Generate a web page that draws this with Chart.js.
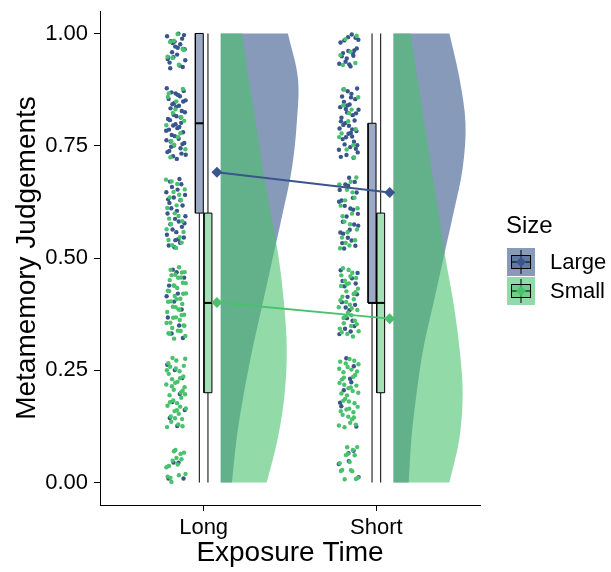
<!DOCTYPE html>
<html>
<head>
<meta charset="utf-8">
<script src="https://cdn.jsdelivr.net/npm/chart.js@4.4.1/dist/chart.umd.min.js"></script>
<style>
  html, body { margin: 0; padding: 0; background: #fff; }
  #wrap { width: 611px; height: 572px; }
</style>
</head>
<body>
<div id="wrap"><canvas id="chart" width="611" height="572"></canvas></div>
<script>
/* Data
------------------------------------------------*/
const categories = ['Long', 'Short'];
const groups = ['Large', 'Small'];
const yTicks = [0, 0.25, 0.5, 0.75, 1];

// rating levels and the dots seen at each level (Long, Short)
const levels = [0, 0.2, 0.4, 0.6, 0.8, 1];
const dotsLarge = [[4, 8, 12, 30, 45, 22], [5, 8, 18, 25, 40, 18]];
const dotsSmall = [[15, 40, 45, 22, 15, 8], [15, 40, 35, 20, 12, 6]];

// boxplots: [min, q1, median, q3, max] for Long, Short
const boxLarge = [[0, 0.6, 0.8, 1, 1], [0, 0.4, 0.4, 0.8, 1]];
const boxSmall = [[0, 0.2, 0.4, 0.6, 1], [0, 0.2, 0.4, 0.6, 1]];

// means
const meanLarge = [0.691, 0.646];
const meanSmall = [0.401, 0.365];

// half violin densities at 0, 0.1 ... 1
const densLevels = [0, 0.1, 0.2, 0.3, 0.4, 0.5, 0.6, 0.7, 0.8, 0.9, 1];
const densLarge = [
  [0.28, 0.40, 0.58, 0.80, 1.05, 1.30, 1.55, 1.78, 1.90, 1.93, 1.68],
  [0.38, 0.45, 0.58, 0.75, 1.00, 1.25, 1.50, 1.73, 1.80, 1.65, 1.40]
];
const densSmall = [
  [1.15, 1.43, 1.60, 1.65, 1.58, 1.45, 1.25, 1.05, 0.88, 0.70, 0.53],
  [1.40, 1.65, 1.73, 1.65, 1.50, 1.30, 1.13, 0.95, 0.78, 0.60, 0.43]
];

/* Layout (x units, one category = 1)
------------------------------------------------*/
const DOT_POS = -0.16, DOT_W = 0.058, DOT_H = 0.08;
const BOX_OFF = 0.025, BOX_HALF = 0.023;
const MEAN_POS = 0.077;
const VIOLIN_POS = 0.099, VIOLIN_SCALE = 0.2316;

const colors = { Large: [57, 86, 140], Small: [74, 193, 109] };
const rgba = (c, a) => 'rgba(' + c.join(',') + ',' + a + ')';
const FONT = "'Liberation Sans', Arial, sans-serif";

function halton(i, b) {
  let f = 1, r = 0;
  while (i > 0) { f /= b; r += f * (i % b); i = Math.floor(i / b); }
  return r;
}

const datasets = [];

// half violins
function addViolin(g, dens, order) {
  dens.forEach((d, ci) => {
    const b = ci + 1 + VIOLIN_POS;
    const pts = [{x: b, y: densLevels[0]}, {x: b + d[0] * VIOLIN_SCALE, y: densLevels[0]}];
    densLevels.forEach((lv, k) => pts.push({x: b + d[k] * VIOLIN_SCALE, y: lv}));
    const last = densLevels.length - 1;
    pts.push({x: b + d[last] * VIOLIN_SCALE, y: densLevels[last]});
    pts.push({x: b, y: densLevels[last]}, {x: b, y: densLevels[last]}, {x: b, y: densLevels[0]});
    datasets.push({
      data: pts, showLine: true, fill: 'shape', tension: 0.35,
      backgroundColor: rgba(colors[g], 0.6), borderWidth: 0, pointRadius: 0, order: order
    });
  });
}
addViolin('Large', densLarge, 10);
addViolin('Small', densSmall, 9);

// boxplots
function addBoxes(g, boxes, sign) {
  boxes.forEach((s, ci) => {
    const c = ci + 1 + sign * BOX_OFF;
    datasets.push({
      data: [{x: c, y: s[0]}, {x: c, y: s[1]}, {x: c, y: null}, {x: c, y: s[3]}, {x: c, y: s[4]}],
      showLine: true, spanGaps: false, borderColor: '#000', borderWidth: 1, pointRadius: 0, order: 8
    });
    datasets.push({
      data: [{x: c - BOX_HALF, y: s[1]}, {x: c + BOX_HALF, y: s[1]}, {x: c + BOX_HALF, y: s[3]},
             {x: c - BOX_HALF, y: s[3]}, {x: c - BOX_HALF, y: s[1]}],
      showLine: true, fill: 'shape', backgroundColor: rgba(colors[g], 0.5),
      borderColor: '#000', borderWidth: 1, pointRadius: 0, order: 7
    });
    datasets.push({
      data: [{x: c - BOX_HALF, y: s[2]}, {x: c + BOX_HALF, y: s[2]}],
      showLine: true, borderColor: '#000', borderWidth: 2, pointRadius: 0, order: 6
    });
  });
}
addBoxes('Large', boxLarge, -1);
addBoxes('Small', boxSmall, 1);

// jittered dots
function addDots(g, counts, seed, order) {
  const pts = [];
  let n = seed;
  counts.forEach((row, ci) => {
    row.forEach((cnt, li) => {
      for (let k = 0; k < cnt; k++) {
        n++;
        const dx = (halton(n, 2) - 0.5) * 2 * DOT_W;
        let dy = (halton(n, 3) - 0.5) * 2 * DOT_H;
        let y = levels[li] + dy;
        if (y < 0 || y > 1) y = levels[li] - dy;
        pts.push({x: ci + 1 + DOT_POS + dx, y: y});
      }
    });
  });
  datasets.push({
    data: pts, pointRadius: 2.2, pointBorderWidth: 0,
    backgroundColor: rgba(colors[g], 1), order: order
  });
}
addDots('Large', dotsLarge, 3, 5);
addDots('Small', dotsSmall, 411, 4);

// means with connecting lines
[['Large', meanLarge], ['Small', meanSmall]].forEach(([g, m]) => {
  datasets.push({
    data: m.map((v, ci) => ({x: ci + 1 + MEAN_POS, y: v})),
    showLine: true, borderColor: rgba(colors[g], 1), borderWidth: 2,
    pointStyle: 'rectRot', pointRadius: 5.5, pointBorderWidth: 0,
    backgroundColor: rgba(colors[g], 1), order: 0
  });
});

/* Legend drawn to look like ggplot keys
------------------------------------------------*/
const sizeLegend = {
  id: 'sizeLegend',
  afterDraw(chart) {
    const ctx = chart.ctx;
    ctx.save();
    ctx.fillStyle = '#000';
    ctx.textBaseline = 'middle';
    ctx.textAlign = 'left';
    ctx.font = '24px ' + FONT;
    ctx.fillText('Size', 506, 226);
    ctx.font = '22px ' + FONT;
    groups.forEach((g, i) => {
      const top = 248 + i * 29, left = 507, w = 28, h = 28;
      const cx = left + w / 2, cy = top + h / 2;
      ctx.fillStyle = rgba(colors[g], 0.6);
      ctx.fillRect(left, top, w, h);
      ctx.strokeStyle = '#000';
      ctx.lineWidth = 1;
      ctx.beginPath();
      ctx.moveTo(cx, top + 2); ctx.lineTo(cx, top + h - 2);
      ctx.stroke();
      ctx.fillStyle = rgba(colors[g], 0.5);
      ctx.fillRect(left + 4, cy - 7, w - 8, 14);
      ctx.strokeRect(left + 4.5, cy - 6.5, w - 9, 13);
      ctx.beginPath();
      ctx.moveTo(left + 4, cy); ctx.lineTo(left + w - 4, cy);
      ctx.stroke();
      ctx.fillStyle = rgba(colors[g], 1);
      ctx.beginPath();
      ctx.moveTo(cx, cy - 5); ctx.lineTo(cx + 5, cy); ctx.lineTo(cx, cy + 5); ctx.lineTo(cx - 5, cy);
      ctx.closePath(); ctx.fill();
      ctx.fillStyle = '#000';
      ctx.fillText(g, 550, cy + 1);
    });
    ctx.restore();
  }
};

new Chart(document.getElementById('chart'), {
  type: 'scatter',
  data: { datasets: datasets },
  options: {
    responsive: false,
    animation: false,
    events: [],
    layout: { padding: { left: 0, right: 131, top: 11, bottom: 0 } },
    plugins: { legend: { display: false }, tooltip: { enabled: false } },
    scales: {
      x: {
        type: 'linear', min: 0.4, max: 2.6,
        afterBuildTicks: s => { s.ticks = categories.map((c, i) => ({ value: i + 1 })); },
        afterFit: s => { s.height = 67; s.paddingLeft = 0; s.paddingRight = 0; },
        ticks: { callback: v => categories[v - 1], color: '#000', font: { family: FONT, size: 22 }, padding: 4, maxRotation: 0, autoSkip: false },
        grid: { drawOnChartArea: false, tickLength: 6, tickColor: '#000', tickWidth: 1 },
        border: { display: true, color: '#000', width: 1 },
        title: { display: true, text: 'Exposure Time', color: '#000', font: { family: FONT, size: 28 }, padding: { top: 0, bottom: 2 } }
      },
      y: {
        type: 'linear', min: -0.05, max: 1.05,
        afterBuildTicks: s => { s.ticks = yTicks.map(v => ({ value: v })); },
        afterFit: s => { s.width = 100; s.paddingTop = 0; s.paddingBottom = 0; },
        ticks: { callback: v => v.toFixed(2), color: '#000', font: { family: FONT, size: 22 }, padding: 6 },
        grid: { drawOnChartArea: false, tickLength: 6, tickColor: '#000', tickWidth: 1 },
        border: { display: true, color: '#000', width: 1 },
        title: { display: true, text: 'Metamemory Judgements', color: '#000', font: { family: FONT, size: 28 }, padding: { top: 10, bottom: 0 } }
      }
    }
  },
  plugins: [sizeLegend]
});
</script>
</body>
</html>
